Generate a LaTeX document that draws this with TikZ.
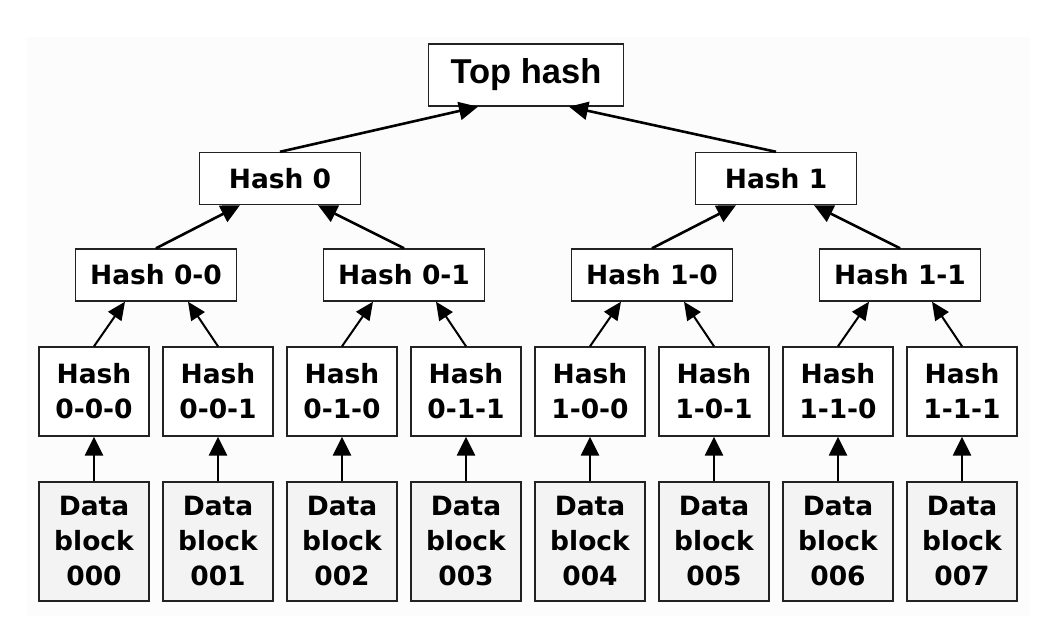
\documentclass[tikz,border=0pt]{standalone}
\usepackage{fontspec}
\setmainfont{DejaVu Sans}
\newfontfamily\topfont{Liberation Sans}
\usetikzlibrary{arrows.meta}
\definecolor{boxline}{HTML}{222222}
\definecolor{datafill}{HTML}{F3F3F3}
\definecolor{panel}{HTML}{FCFCFC}
\tikzset{
  hbox/.style={draw=boxline, line width=1.4pt, fill=white, inner sep=0pt, align=center,
    font=\bfseries\fontsize{26.5}{35}\selectfont},
  topbox/.style={hbox, minimum width=195pt, minimum height=62pt,
    font=\topfont\bfseries\fontsize{34.5}{38}\selectfont},
  midbox/.style={hbox, minimum width=161pt, minimum height=52pt},
  leafbox/.style={hbox, minimum width=110pt, minimum height=89pt},
  databox/.style={hbox, fill=datafill, minimum width=110pt, minimum height=119pt},
  uparrow/.style={line width=2.6pt, -{Triangle[length=19pt,width=18pt]}},
  thinarrow/.style={line width=2pt, -{Triangle[length=18pt,width=16pt]}}
}
\begin{document}
\begin{tikzpicture}[x=1pt,y=-1pt]
\useasboundingbox (0,0) rectangle (1056,628);
\fill[panel] (27,37) rectangle (1030,616);

% root
\node[topbox] (top) at (526,75) {Top hash};

% first level
\node[midbox] (h0) at (280,178.5) {Hash 0};
\node[midbox] (h1) at (776,178.5) {Hash 1};

% second level
\node[midbox] (h00) at (156,275) {Hash 0-0};
\node[midbox] (h01) at (404,275) {Hash 0-1};
\node[midbox] (h10) at (652,275) {Hash 1-0};
\node[midbox] (h11) at (900,275) {Hash 1-1};

% leaf hashes and data blocks (phantom keeps every label on the same baseline)
\foreach \i/\lbl in {0/0-0-0,1/0-0-1,2/0-1-0,3/0-1-1,4/1-0-0,5/1-0-1,6/1-1-0,7/1-1-1}{
  \node[leafbox] (l\i) at ({94+124*\i},391.5) {Hash\\\lbl\vphantom{0}};
  \node[databox] (d\i) at ({94+124*\i},541.5) {Data\\block\\00\i\vphantom{0}};
  \draw[uparrow] (d\i.north) -- (l\i.south);
}

% leaf hashes into second level
\foreach \p/\a/\b in {h00/0/1,h01/2/3,h10/4/5,h11/6/7}{
  \draw[thinarrow] (l\a.north) -- ([xshift=-31pt]\p.south);
  \draw[thinarrow] (l\b.north) -- ([xshift=32pt]\p.south);
}

% second level into first level
\draw[uparrow] (h00.north) -- ([xshift=-40pt]h0.south);
\draw[uparrow] (h01.north) -- ([xshift=38pt]h0.south);
\draw[uparrow] (h10.north) -- ([xshift=-40pt]h1.south);
\draw[uparrow] (h11.north) -- ([xshift=38pt]h1.south);

% first level into root
\draw[uparrow] (h0.north) -- ([xshift=-48pt]top.south);
\draw[uparrow] (h1.north) -- ([xshift=43pt]top.south);
\end{tikzpicture}
\end{document}
